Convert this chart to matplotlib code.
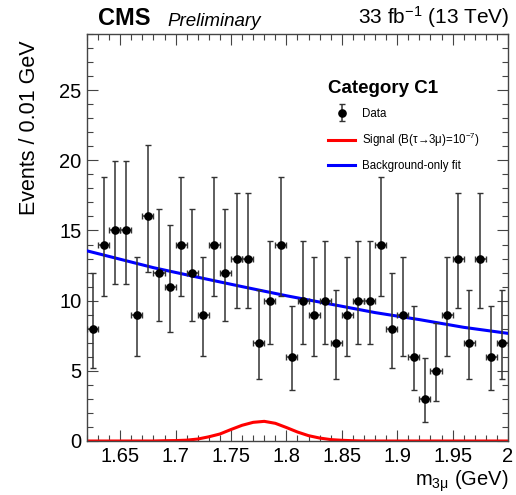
import math

import numpy as np
import matplotlib
matplotlib.use("Agg")
import matplotlib.pyplot as plt
from matplotlib.ticker import MultipleLocator, FuncFormatter
from matplotlib.container import ErrorbarContainer
from matplotlib.legend_handler import HandlerErrorbar


# observed events per 0.01 GeV bin, starting at 1.62 GeV
BIN_LO = 1.62
BIN_WIDTH = 0.01
counts = [8, 14, 15, 15, 9, 16, 12, 11, 14, 12, 9, 14, 12, 13, 13, 7, 10, 14, 6,
          10, 9, 10, 7, 9, 10, 10, 14, 8, 9, 6, 3, 5, 9, 13, 7, 13, 6, 7]

# background-only fit
bkg_mass = [1.62, 1.68, 1.72, 1.76, 1.80, 1.84, 1.88, 1.92, 1.96, 2.00]
bkg_yield = [13.55, 12.35, 11.67, 11.00, 10.35, 9.75, 9.15, 8.65, 8.10, 7.67]

# signal shape for B(tau->3mu) = 1e-7
sig_mass = [1.62, 1.68, 1.69, 1.70, 1.71, 1.72, 1.73, 1.74, 1.75, 1.76, 1.77,
            1.78, 1.79, 1.80, 1.81, 1.82, 1.83, 1.84, 1.85, 1.86, 1.87, 2.00]
sig_yield = [0.0, 0.0, 0.02, 0.03, 0.06, 0.14, 0.30, 0.50, 0.82, 1.12, 1.33,
             1.40, 1.26, 0.96, 0.64, 0.38, 0.21, 0.10, 0.05, 0.02, 0.0, 0.0]


def poisson_cdf(k, lam):
    term = math.exp(-lam)
    total = term
    for i in range(1, k + 1):
        term *= lam / i
        total += term
    return total


def garwood(n, cl=0.682689):
    """68% central Poisson interval, as RooFit draws data errors."""
    alpha = (1.0 - cl) / 2.0

    def solve(f, lo, hi):
        for _ in range(200):
            mid = 0.5 * (lo + hi)
            if f(mid) > 0:
                lo = mid
            else:
                hi = mid
        return 0.5 * (lo + hi)

    if n == 0:
        low = 0.0
    else:
        low = solve(lambda lam: alpha - (1.0 - poisson_cdf(n - 1, lam)), 0.0, n)
    up = solve(lambda lam: poisson_cdf(n, lam) - alpha, n, n + 10 * math.sqrt(n + 1) + 10)
    return n - low, up - n


plt.rcParams["font.family"] = ["Liberation Sans", "DejaVu Sans"]
plt.rcParams["mathtext.fontset"] = "custom"
plt.rcParams["mathtext.rm"] = "Liberation Sans"
plt.rcParams["mathtext.it"] = "Liberation Sans:italic"
plt.rcParams["mathtext.bf"] = "Liberation Sans:bold"

centers = BIN_LO + BIN_WIDTH * (np.arange(len(counts)) + 0.5)
errs = np.array([garwood(n) for n in counts]).T

fig = plt.figure(figsize=(5.16, 4.95), dpi=100)
ax = fig.add_axes([87 / 516, 1 - 441 / 495, 421 / 516, 407 / 495])

sig_label = r"Signal (B(τ→3μ)=10$^{-7}$)"
ax.plot(sig_mass, sig_yield, color="#ff0000", lw=2.2, zorder=2, label=sig_label)
ax.plot(bkg_mass, bkg_yield, color="#0000ff", lw=2.2, zorder=3,
        label="Background-only fit")
ax.errorbar(centers, counts, yerr=errs, xerr=BIN_WIDTH / 2, fmt="o",
            color="black", ecolor="#333333", elinewidth=1.1, capsize=2.5,
            markersize=5.2, zorder=4, label="Data")

ax.set_xlim(1.62, 2.0)
ax.set_ylim(0, 29)

ax.xaxis.set_major_locator(MultipleLocator(0.05))
ax.xaxis.set_minor_locator(MultipleLocator(0.01))
ax.yaxis.set_major_locator(MultipleLocator(5))
ax.yaxis.set_minor_locator(MultipleLocator(1))
ax.xaxis.set_major_formatter(FuncFormatter(lambda v, p: f"{v:g}"))

ax.tick_params(which="both", direction="in", top=True, right=True,
               color="#444444", width=0.8, labelsize=14.5)
ax.tick_params(which="major", length=8)
ax.tick_params(which="minor", length=4)
ax.tick_params(axis="x", pad=4)
ax.tick_params(axis="y", pad=4)
for sp in ax.spines.values():
    sp.set_color("#444444")
    sp.set_linewidth(1.0)

ax.set_ylabel("Events / 0.01 GeV", fontsize=15.5, loc="top")
ax.yaxis.set_label_coords(-0.112, 0.985)
ax.set_xlabel(r"m$_{\mathregular{3μ}}$ (GeV)", fontsize=14.5, loc="right")
ax.xaxis.set_label_coords(1.0, -0.068)

# header
ax.text(0.026, 1.01, "CMS", transform=ax.transAxes, fontsize=17,
        fontweight="bold", ha="left", va="bottom")
ax.text(0.19, 1.01, "Preliminary", transform=ax.transAxes, fontsize=13.5,
        fontstyle="italic", ha="left", va="bottom")
ax.text(1.003, 1.01, r"33 fb$^{-1}$ (13 TeV)", transform=ax.transAxes,
        fontsize=15, ha="right", va="bottom")

handles, labels = ax.get_legend_handles_labels()
order = [labels.index("Data"), labels.index(sig_label),
         labels.index("Background-only fit")]
leg = ax.legend([handles[i] for i in order], [labels[i] for i in order],
                loc="upper left", bbox_to_anchor=(0.573, 0.888),
                frameon=False, fontsize=8.3, title="Category C1",
                title_fontproperties={"weight": "bold", "size": 13.5},
                alignment="left", borderpad=0, borderaxespad=0,
                handlelength=2.35, handletextpad=0.6, labelspacing=0.95,
                handler_map={ErrorbarContainer:
                             HandlerErrorbar(xerr_size=0, yerr_size=0.75)})

fig.savefig("out.png", dpi=100)
